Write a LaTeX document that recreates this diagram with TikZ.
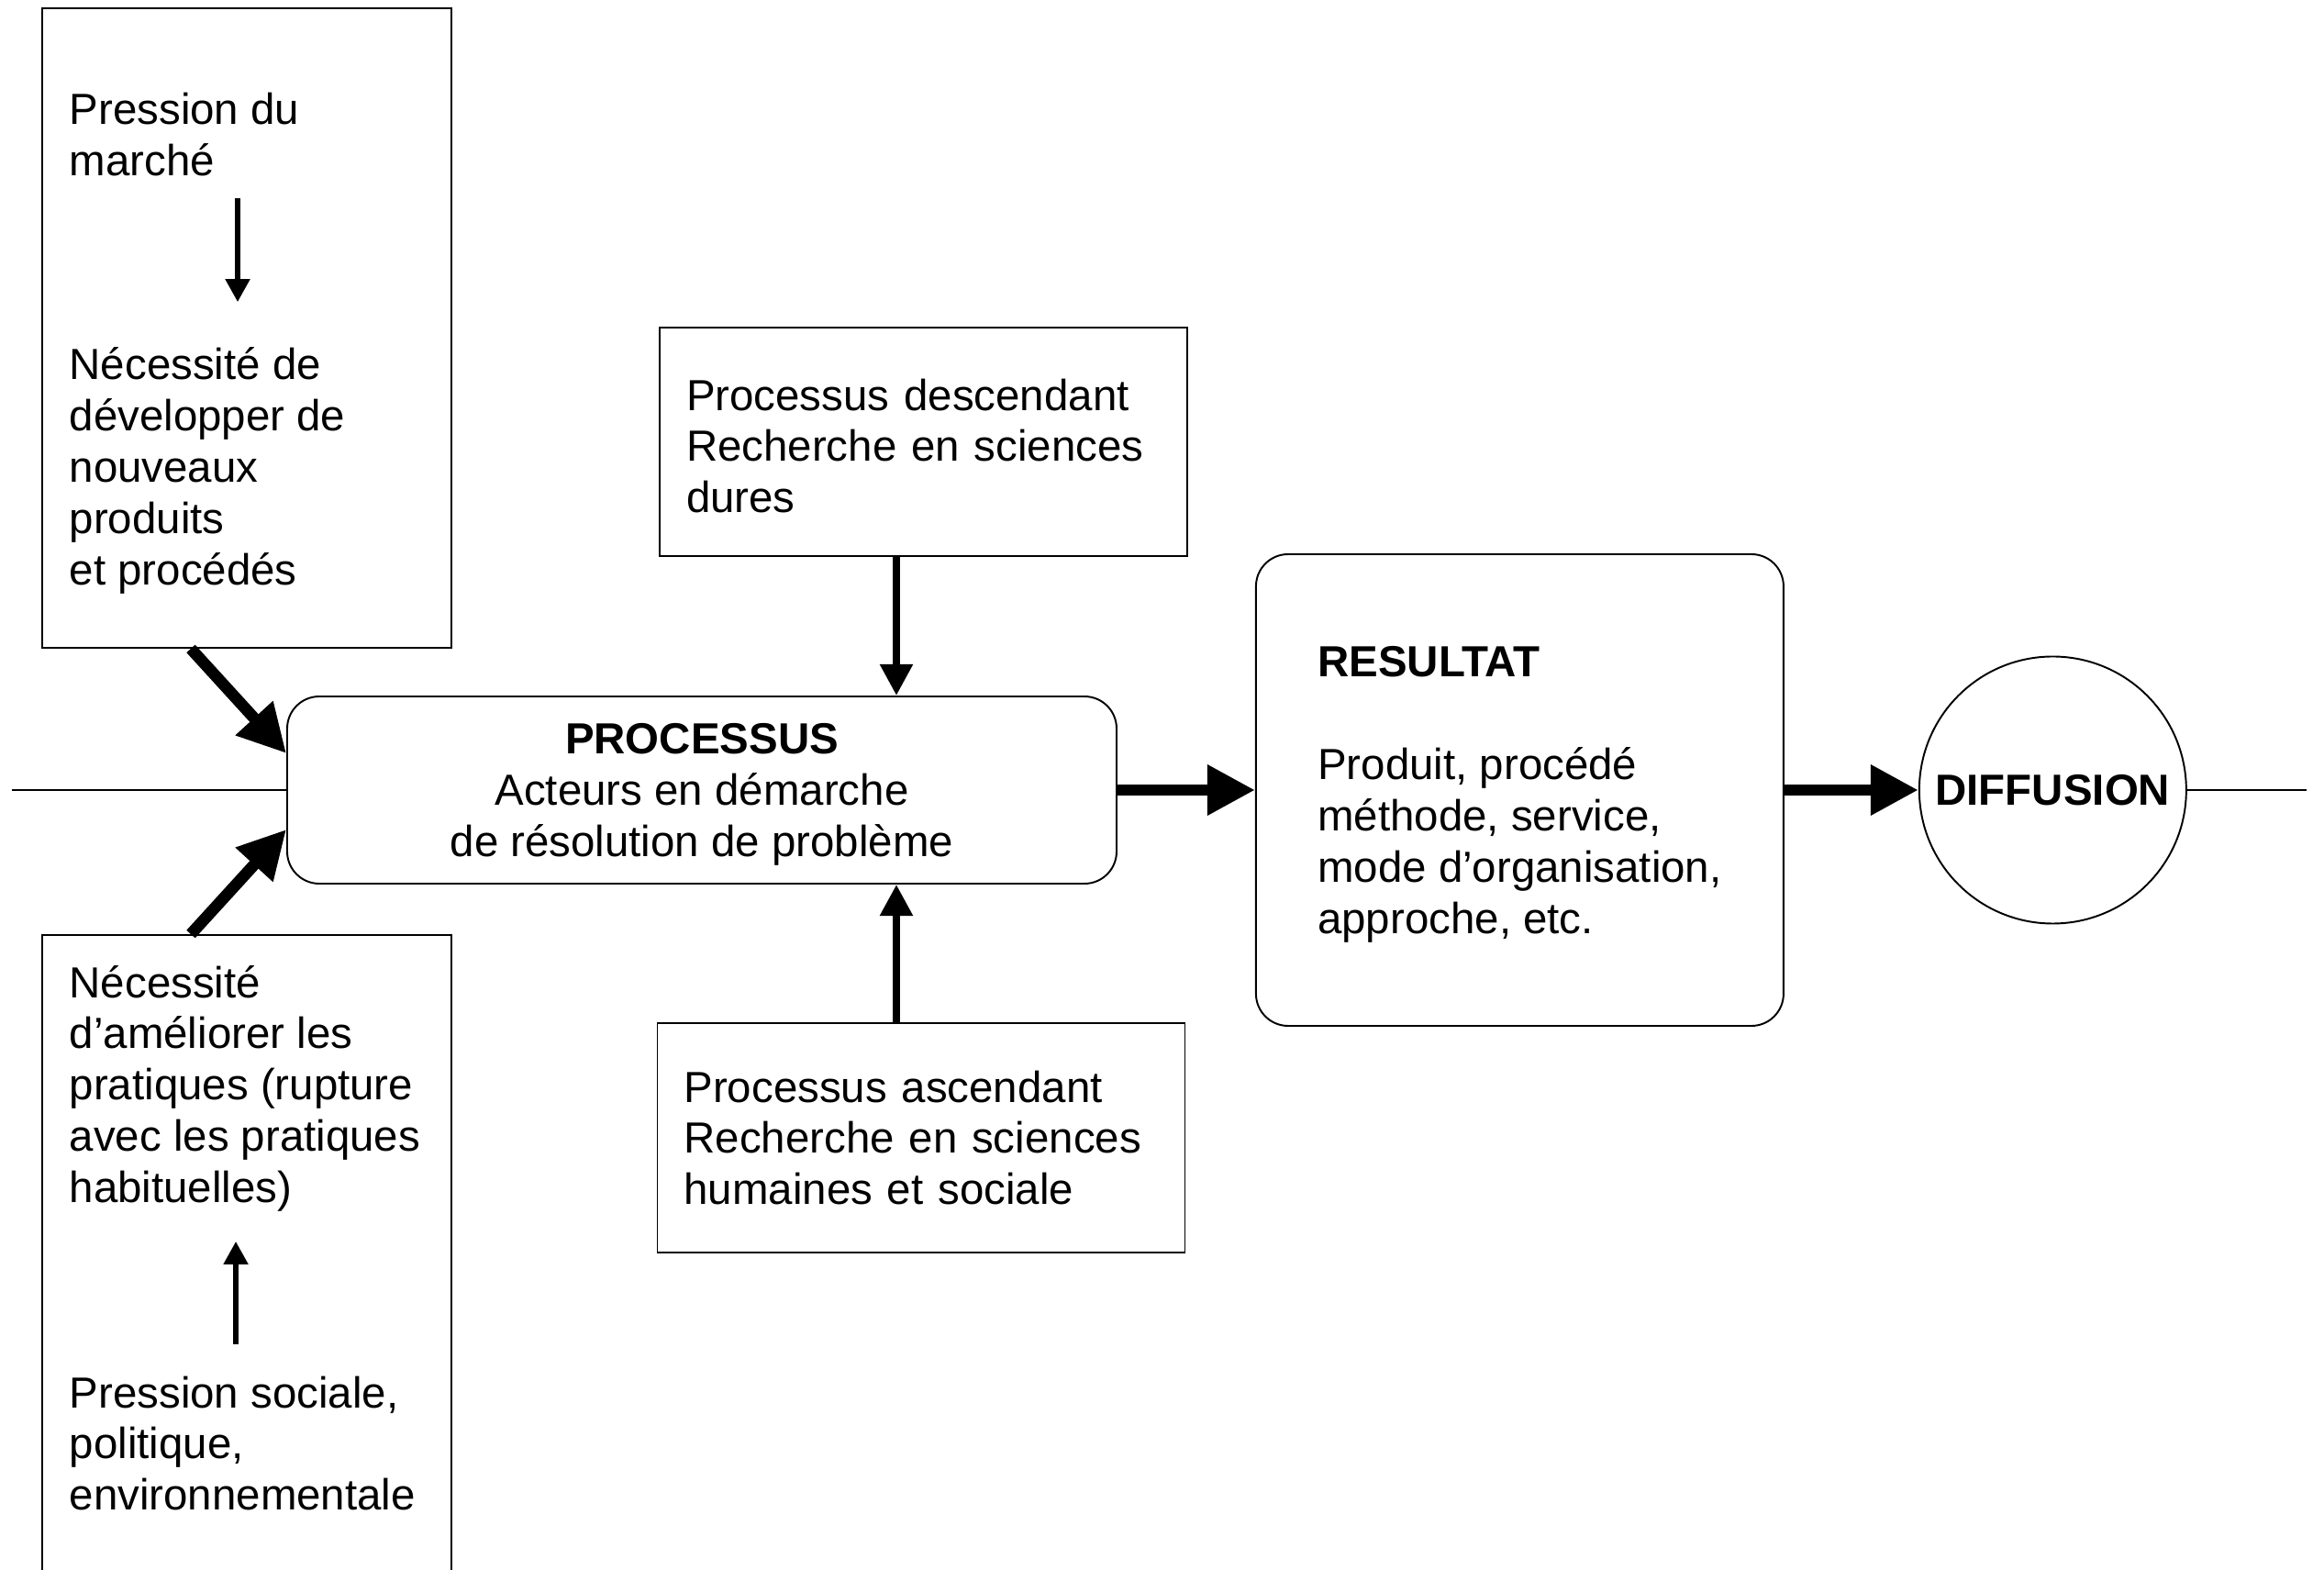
\documentclass[tikz,border=0pt]{standalone}
\usepackage{fontspec}
\setmainfont{Liberation Sans}
\usepackage{tikz}
\usetikzlibrary{arrows.meta, positioning}
\usepackage{xcolor}
\definecolor{RichBlack}{gray}{0}
\newcommand{\topstrut}{\rule{0pt}{12.3pt}}
\tikzset{%
  plain_block/.style={%
    rectangle,%
    draw=RichBlack,%
    line width=0.55pt,%
    font={\fontsize{13.5}{15.9}\selectfont},%
    align=left,%
  },
  smooth_block/.style={%
    rectangle,%
    rounded corners=0.35cm,%
    draw=RichBlack,%
    line width=0.55pt,%
    font={\fontsize{13.5}{15.9}\selectfont},%
  },
  round_block/.style={%
    circle,%
    draw=RichBlack,%
    line width=0.55pt,%
    inner sep=0pt,%
    minimum size=2.91cm,%
    font={\fontsize{13.5}{15.9}\selectfont\bfseries},%
  },
  annotate/.style={%
    anchor=base west,%
    inner sep=0pt,%
    align=left,%
    font={\fontsize{13.5}{15.9}\selectfont},%
  },
  plain_path/.style={%
    color=RichBlack,%
    line width=0.55pt,%
  },
  fat_arrow/.style={%
    color=RichBlack,%
    line width=3.6pt,%
    -{Triangle[length=14.8pt, width=14.8pt]},%
  },
  mid_arrow/.style={%
    color=RichBlack,%
    line width=2.3pt,%
    -{Triangle[length=9.7pt, width=9.7pt]},%
  },
  small_arrow/.style={%
    color=RichBlack,%
    line width=1.5pt,%
    -{Triangle[length=7.1pt, width=7.4pt]},%
  },
}

\begin{document}
\begin{tikzpicture}

    \useasboundingbox (0, 0) rectangle (25.33, 17.11);

    \node [smooth_block, align=center, minimum width=9.04cm, minimum height=2.04cm]
      (Processus) at (7.65, 8.50) {%
      \topstrut\textbf{PROCESSUS}\\Acteurs en démarche\\de résolution de problème%
    };
    \node [smooth_block, align=left, minimum width=5.75cm, minimum height=5.14cm,
      right = 1.50 of Processus] (Resultat) {%
      \topstrut\textbf{RESULTAT}\\[15.9pt]Produit, procédé\\méthode, service,\\%
      mode d’organisation,\\approche, etc.%
    };
    \node [round_block, right = 1.46 of Resultat] (Diffusion) {DIFFUSION};
    \node [plain_block, text width=5.17cm, inner xsep=0.29cm, inner ysep=0pt,
      minimum height=2.49cm, above = 1.51 of Processus, xshift=2.415cm] (Descendant) {%
      \topstrut Processus descendant\\Recherche en sciences\\dures%
    };
    \node [plain_block, text width=5.17cm, inner xsep=0.29cm, inner ysep=0pt,
      minimum height=2.50cm, below = 1.50 of Processus, xshift=2.39cm] (Ascendant) {%
      Processus ascendant\\Recherche en sciences\\humaines et sociale%
    };

    % boites de gauche
    \node [plain_block, minimum width=4.46cm, minimum height=6.97cm] (Marche) at (2.69, 13.535) {};
    \node [plain_block, minimum width=4.46cm, minimum height=7.00cm] (Social) at (2.69, 3.42) {};
    \node [annotate] (pression_marche) at ([shift={(0.30,-1.836)}]Marche.north west) {%
      Pression du\\marché%
    };
    \node [annotate] (necessite_produits) at ([shift={(0.30,-6.29)}]Marche.north west) {%
      Nécessité de\\développer de\\nouveaux\\produits\\et procédés%
    };
    \node [annotate] (necessite_pratiques) at ([shift={(0.30,-2.926)}]Social.north west) {%
      Nécessité\\d’améliorer les\\pratiques (rupture\\avec les pratiques\\habituelles)%
    };
    \node [annotate] (pression_sociale) at ([shift={(0.30,-6.278)}]Social.north west) {%
      Pression sociale,\\politique,\\environnementale%
    };
    \coordinate (entree) at (0.13, 8.50);
    \coordinate (sortie) at (25.14, 8.50);

    \draw [small_arrow]
      ([shift={(1.84,-0.245)}]pression_marche.base west)
      --
      ([shift={(1.84,3.08)}]necessite_produits.base west);
    \draw [small_arrow]
      ([shift={(1.82,1.81)}]pression_sociale.base west)
      --
      ([shift={(1.82,-0.424)}]necessite_pratiques.base west);
    \draw [plain_path]
      (entree)
      --
      (Processus.west);
    \draw [plain_path]
      (Diffusion.east)
      --
      (sortie);
    \draw [fat_arrow]
      ([xshift=-0.61cm]Marche.south)
      --
      ([yshift=0.40cm]Processus.west);
    \draw [fat_arrow]
      ([xshift=-0.61cm]Social.north)
      --
      ([yshift=-0.43cm]Processus.west);
    \draw [mid_arrow]
      ([xshift=-0.295cm]Descendant.south)
      --
      ([xshift=-0.295cm]Descendant.south |- Processus.north);
    \draw [mid_arrow]
      ([xshift=-0.27cm]Ascendant.north)
      --
      ([xshift=-0.27cm]Ascendant.north |- Processus.south);
    \draw [fat_arrow]
      (Processus.east)
      --
      (Resultat.west);
    \draw [fat_arrow]
      (Resultat.east)
      --
      (Diffusion.west);
  \end{tikzpicture}
\end{document}
